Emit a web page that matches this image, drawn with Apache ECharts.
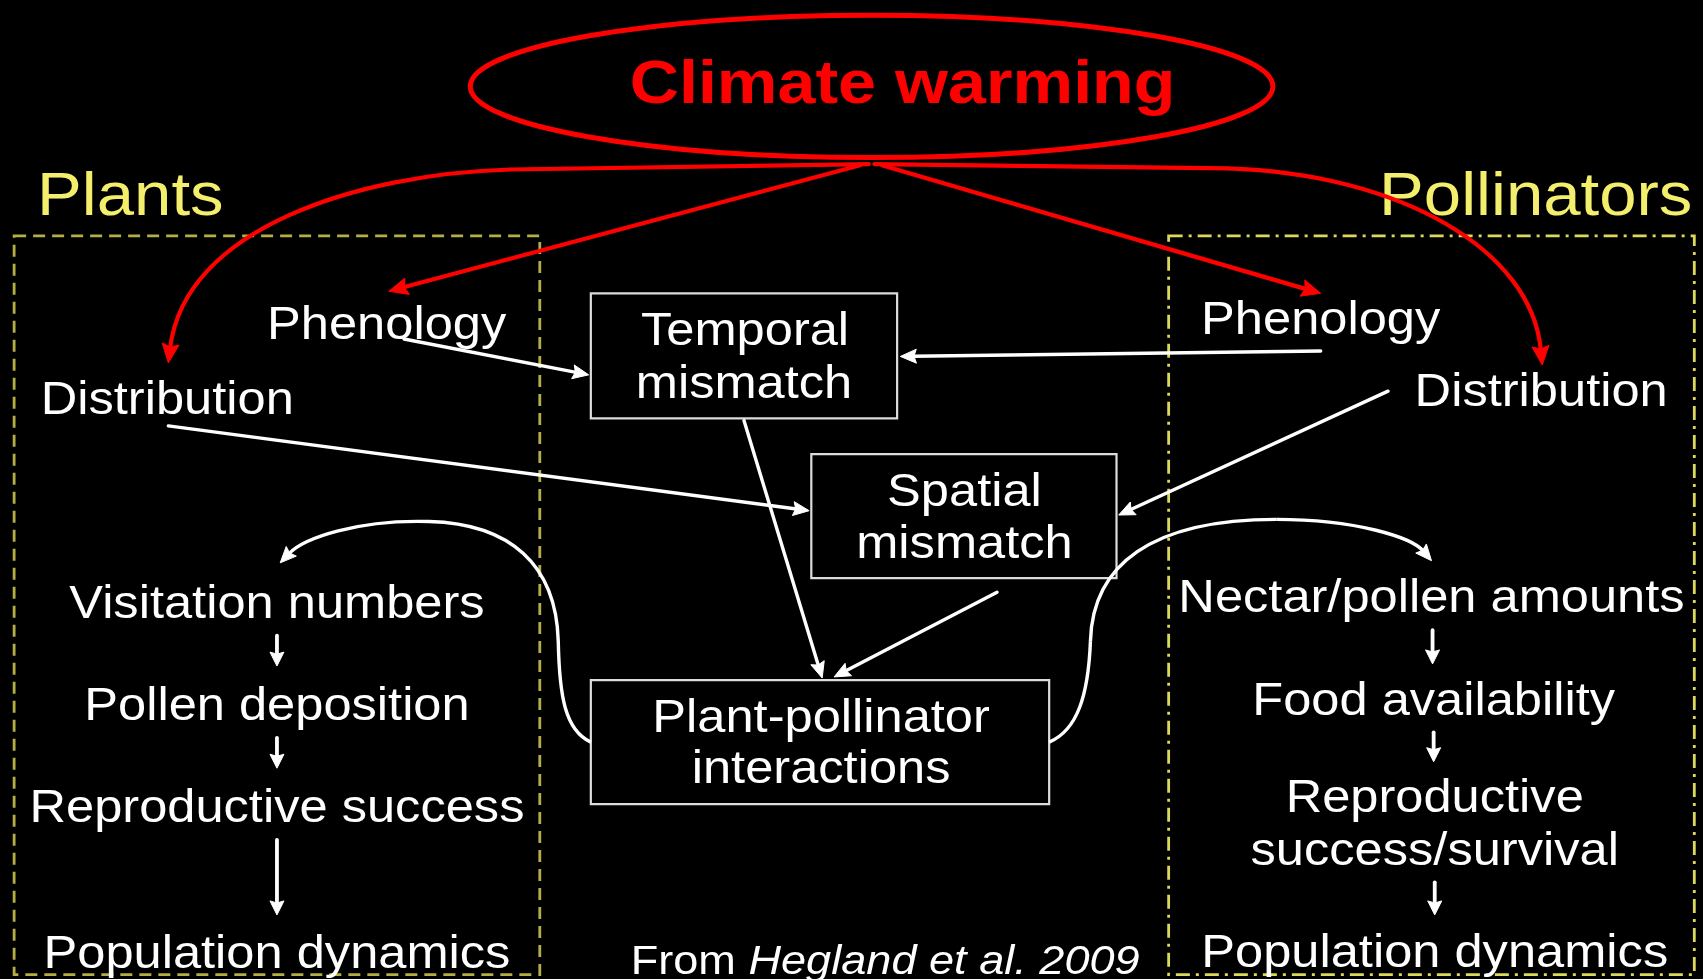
<!DOCTYPE html>
<html><head><meta charset="utf-8">
<script src="https://cdn.jsdelivr.net/npm/echarts@6/dist/echarts.min.js"></script>
<style>html,body{margin:0;padding:0;background:#000;}#chart{width:1703px;height:979px;}</style>
</head><body><div id="chart"></div>
<script>
// ---- content ----
const titleText = 'Climate warming';
const groupTitles = ['Plants', 'Pollinators'];
const plantDrivers = ['Phenology', 'Distribution'];
const pollinatorDrivers = ['Phenology', 'Distribution'];
const mismatchLabels = [['Temporal', 'mismatch'], ['Spatial', 'mismatch'], ['Plant-pollinator', 'interactions']];
const plantChain = ['Visitation numbers', 'Pollen deposition', 'Reproductive success', 'Population dynamics'];
const pollinatorChain = ['Nectar/pollen amounts', 'Food availability', 'Reproductive', 'success/survival', 'Population dynamics'];
const citationPlain = 'From ';
const citationItalic = 'Hegland et al. 2009';

// ---- layout (diagram units on hidden axes 0..1568 x 0..901) ----
const W = 1568, H = 901;
const ellipseLayout = [802.5, 79.5, 369.5, 65.5];
const titlePos = [831, 79];
const groupTitlePos = [[120, 182], [1414, 182]];
const plantDriverPos = [[356, 300], [154, 369]];
const pollinatorDriverPos = [[1216, 296], [1419, 362]];
const boxRects = [[544, 270, 826, 385], [747, 418, 1028, 532], [544, 626, 966, 740]];
const boxTextPos = [[[686, 306], [685, 355]], [[888, 454], [888, 502]], [[756, 662], [756, 709]]];
const plantChainPos = [[255, 557], [255, 651], [255, 745], [255, 879]];
const pollinatorChainPos = [[1318, 552], [1320, 646], [1321, 736], [1321, 784], [1321, 878]];
const citationPos = [815, 886];
const groupFrames = [[13, 217, 497, 897], [1076, 217, 1560, 897]];

const redArrows = [
  [['M', 800, 151], ['L', 470, 156], ['C', 330, 160, 170, 210, 155, 334]],
  [['M', 792, 152], ['L', 358, 268]],
  [['M', 812, 152], ['L', 1216, 270]],
  [['M', 805, 151], ['L', 1130, 155], ['C', 1290, 160, 1410, 230, 1420, 336]]
];
const whiteArrows = [
  [['M', 372, 312], ['L', 542, 345]],
  [['M', 1216, 323], ['L', 829, 328]],
  [['M', 155, 392], ['L', 745, 470]],
  [['M', 1278, 360], ['L', 1030, 474]],
  [['M', 685, 387], ['L', 757, 624]],
  [['M', 918, 545], ['L', 768, 623]],
  [['M', 544, 683], ['C', 520, 672, 515, 640, 514, 590], ['C', 512, 520, 470, 482, 395, 480], ['C', 330, 478, 280, 495, 258, 518]],
  [['M', 966, 683], ['C', 992, 672, 1002, 640, 1004, 590], ['C', 1006, 520, 1060, 478, 1175, 478], ['C', 1250, 478, 1300, 495, 1318, 516]]
];
const stepArrows = [
  [['M', 255, 585], ['L', 255, 613]],
  [['M', 255, 679], ['L', 255, 707]],
  [['M', 255, 773], ['L', 255, 842]],
  [['M', 1319, 580], ['L', 1319, 611]],
  [['M', 1320, 674], ['L', 1320, 701]],
  [['M', 1321, 812], ['L', 1321, 842]]
];

// ---- styles ----
const FONT = '"Liberation Sans", Arial, Helvetica, sans-serif';
const SX = 1.1;
const RED = '#ff0000';
const WHITE = '#ffffff';
const YELLOW = '#f3ef6c';

function renderDiagram(params, api) {
  const c = p => api.coord(p);
  const kids = [];

  function text(pos, str, size, color, weight) {
    const p = c(pos);
    kids.push({
      type: 'text', x: p[0], y: p[1], scaleX: SX,
      style: { text: str, fill: color, fontSize: size, fontFamily: FONT, fontWeight: weight || 'normal', align: 'center', verticalAlign: 'middle' }
    });
  }
  function frame(r, color, dash, lw) {
    const a = c([r[0], r[1]]), b = c([r[2], r[3]]);
    kids.push({
      type: 'rect', shape: { x: a[0], y: a[1], width: b[0] - a[0], height: b[1] - a[1] },
      style: { fill: 'none', stroke: color, lineWidth: lw, lineDash: dash }
    });
  }
  function box(r) {
    const a = c([r[0], r[1]]), b = c([r[2], r[3]]);
    kids.push({
      type: 'rect', shape: { x: a[0], y: a[1], width: b[0] - a[0], height: b[1] - a[1] },
      style: { fill: '#000', stroke: '#dcdcdc', lineWidth: 2.2 }
    });
  }
  function arrow(segs, color, lw, headL, headW) {
    let prev = c([segs[0][1], segs[0][2]]);
    const n = segs.length;
    function head(tip, ux, uy) {
      const bx = tip[0] - ux * headL, by = tip[1] - uy * headL;
      const nx = -uy, ny = ux;
      kids.push({ type: 'polygon', z2: 5, shape: { points: [tip, [bx + nx * headW / 2, by + ny * headW / 2], [tip[0] - ux * headL * 0.85, tip[1] - uy * headL * 0.85], [bx - nx * headW / 2, by - ny * headW / 2]] }, style: { fill: color, stroke: color, lineWidth: 1, lineJoin: 'miter' } });
    }
    for (let i = 1; i < n; i++) {
      const s = segs[i];
      const last = i === n - 1;
      if (s[0] === 'L') {
        const tip = c([s[1], s[2]]);
        let end = tip;
        if (last) {
          const dx = tip[0] - prev[0], dy = tip[1] - prev[1], d = Math.hypot(dx, dy);
          const ux = dx / d, uy = dy / d;
          end = [tip[0] - ux * headL * 0.8, tip[1] - uy * headL * 0.8];
          head(tip, ux, uy);
        }
        kids.push({ type: 'line', shape: { x1: prev[0], y1: prev[1], x2: end[0], y2: end[1] }, style: { stroke: color, lineWidth: lw, lineCap: 'round' } });
        prev = tip;
      } else {
        const c1 = c([s[1], s[2]]), c2 = c([s[3], s[4]]), tip = c([s[5], s[6]]);
        let end = tip;
        if (last) {
          const dx = tip[0] - c2[0], dy = tip[1] - c2[1], d = Math.hypot(dx, dy);
          const ux = dx / d, uy = dy / d;
          end = [tip[0] - ux * headL * 0.8, tip[1] - uy * headL * 0.8];
          head(tip, ux, uy);
        }
        kids.push({ type: 'bezierCurve', shape: { x1: prev[0], y1: prev[1], cpx1: c1[0], cpy1: c1[1], cpx2: c2[0], cpy2: c2[1], x2: end[0], y2: end[1] }, style: { stroke: color, fill: 'none', lineWidth: lw } });
        prev = tip;
      }
    }
  }

  // frames
  frame(groupFrames[0], '#b4ae45', [12, 7], 2.8);
  frame(groupFrames[1], '#dcd85a', [14, 6, 3, 6], 2.8);
  // boxes
  boxRects.forEach(box);
  // white arrows
  whiteArrows.forEach(a => arrow(a, WHITE, 3.4, 16, 14));
  stepArrows.forEach(a => arrow(a, WHITE, 3.8, 14, 14));
  // texts
  text(groupTitlePos[0], groupTitles[0], 61, YELLOW);
  text(groupTitlePos[1], groupTitles[1], 61, YELLOW);
  plantDrivers.forEach((t, i) => text(plantDriverPos[i], t, 46, WHITE));
  pollinatorDrivers.forEach((t, i) => text(pollinatorDriverPos[i], t, 46, WHITE));
  mismatchLabels.forEach((pair, i) => pair.forEach((t, j) => text(boxTextPos[i][j], t, 46, WHITE)));
  plantChain.forEach((t, i) => text(plantChainPos[i], t, 46, WHITE));
  pollinatorChain.forEach((t, i) => text(pollinatorChainPos[i], t, 46, WHITE));
  // citation
  const cp = c(citationPos);
  kids.push({
    type: 'text', x: cp[0], y: cp[1], scaleX: SX,
    style: {
      text: '{a|' + citationPlain + '}{b|' + citationItalic + '}',
      fill: WHITE, fontSize: 41, fontFamily: FONT, align: 'center', verticalAlign: 'middle',
      rich: { a: { fill: WHITE, fontSize: 41, fontFamily: FONT }, b: { fill: WHITE, fontSize: 41, fontFamily: FONT, fontStyle: 'italic' } }
    }
  });
  // red arrows
  redArrows.forEach(a => arrow(a, RED, 4.2, 19, 17));
  // ellipse + title
  const ec = c([ellipseLayout[0], ellipseLayout[1]]);
  const er = c([ellipseLayout[0] + ellipseLayout[2], ellipseLayout[1] + ellipseLayout[3]]);
  kids.push({ type: 'ellipse', shape: { cx: ec[0], cy: ec[1], rx: er[0] - ec[0], ry: er[1] - ec[1] }, style: { fill: 'none', stroke: RED, lineWidth: 5 } });
  text(titlePos, titleText, 62, RED, 'bold');

  return { type: 'group', children: kids };
}

const chart = echarts.init(document.getElementById('chart'), null, { renderer: 'canvas' });
chart.setOption({
  backgroundColor: '#000',
  animation: false,
  grid: { left: 0, right: 0, top: 0, bottom: 0, containLabel: false },
  xAxis: { type: 'value', min: 0, max: W, show: false },
  yAxis: { type: 'value', min: 0, max: H, inverse: true, show: false },
  series: [{
    type: 'custom',
    coordinateSystem: 'cartesian2d',
    clip: false,
    silent: true,
    data: [[0, 0]],
    renderItem: renderDiagram
  }]
});
</script>
</body></html>
